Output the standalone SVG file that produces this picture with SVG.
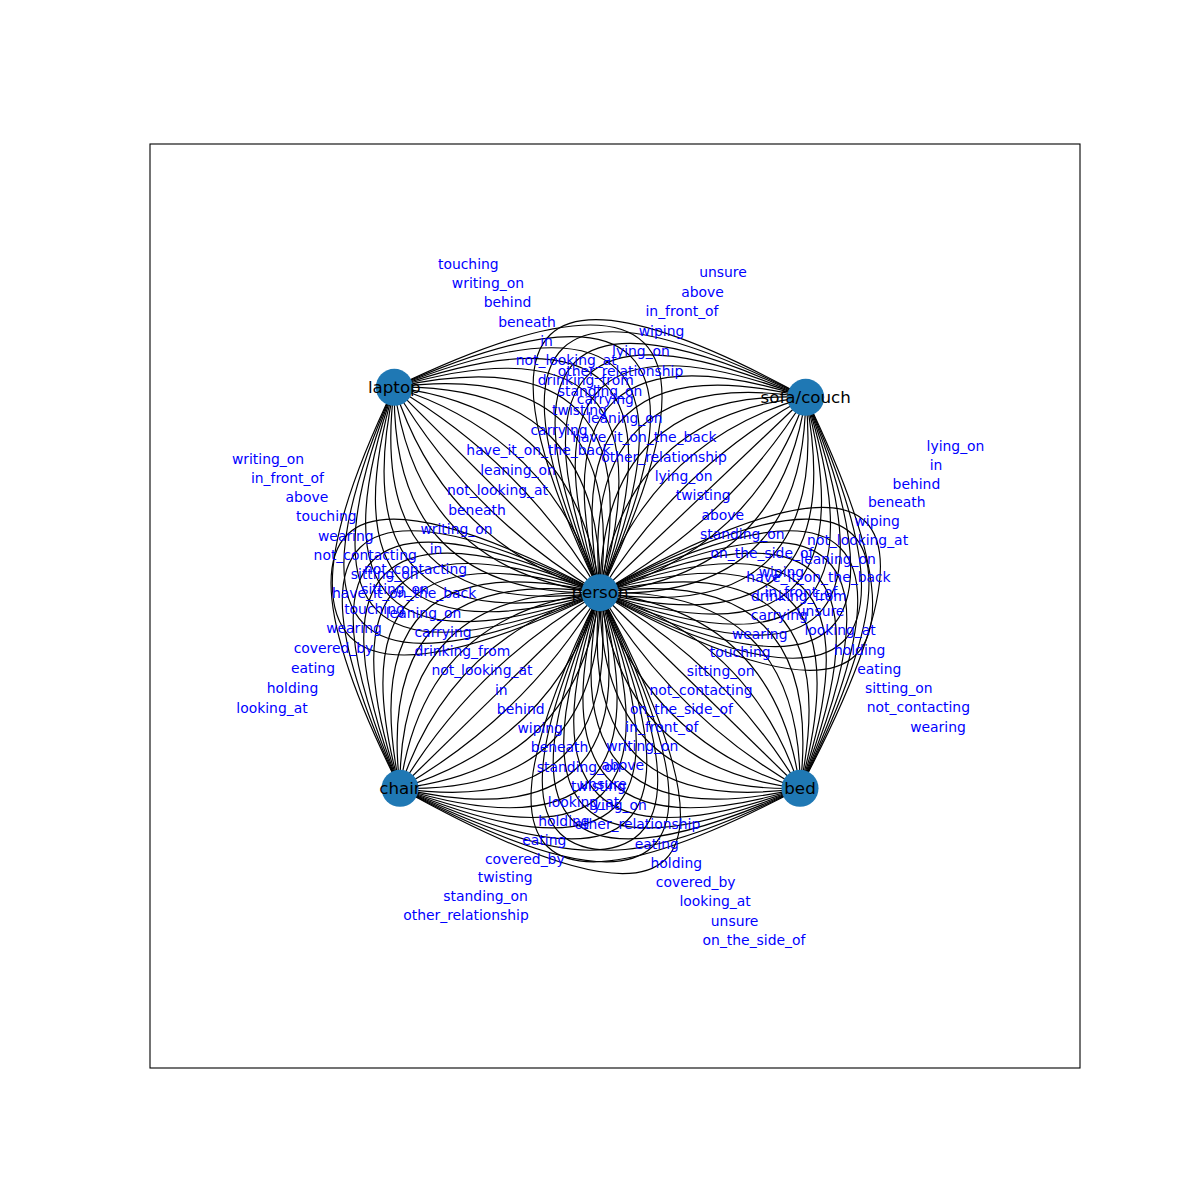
<svg xmlns="http://www.w3.org/2000/svg" width="1200" height="1200" viewBox="0 0 1200 1200">
<style>
.e{fill:none;stroke:#000;stroke-width:1.2}
.l{fill:#0000ff;font-family:"DejaVu Sans","Liberation Sans",sans-serif;font-size:13.9px;text-anchor:middle}
.n{fill:#1f78b4}
.t{fill:#000;font-family:"DejaVu Sans","Liberation Sans",sans-serif;font-size:16.7px;text-anchor:middle}
</style>
<rect x="0" y="0" width="1200" height="1200" fill="#fff"/>
<rect x="150" y="144" width="930" height="924" fill="none" stroke="#000" stroke-width="1.1"/>
<g id="connectors">
<g id="edges-laptop">
<path class="e" d="M394.3 387.3Q790.9 195.9 600 592.7"/>
<path class="e" d="M394.3 387.3Q764.2 222.6 600 592.7"/>
<path class="e" d="M394.3 387.3Q737.5 249.3 600 592.7"/>
<path class="e" d="M394.3 387.3Q710.8 276.1 600 592.7"/>
<path class="e" d="M394.3 387.3Q684.1 302.8 600 592.7"/>
<path class="e" d="M394.3 387.3Q657.4 329.6 600 592.7"/>
<path class="e" d="M394.3 387.3Q630.7 356.3 600 592.7"/>
<path class="e" d="M394.3 387.3Q604 383 600 592.7"/>
<path class="e" d="M394.3 387.3Q577.3 409.8 600 592.7"/>
<path class="e" d="M394.3 387.3Q550.6 436.5 600 592.7"/>
<path class="e" d="M394.3 387.3Q523.9 463.3 600 592.7"/>
<path class="e" d="M394.3 387.3L600 592.7"/>
<path class="e" d="M394.3 387.3Q470.5 516.7 600 592.7"/>
<path class="e" d="M394.3 387.3Q443.8 543.5 600 592.7"/>
<path class="e" d="M394.3 387.3Q417.1 570.2 600 592.7"/>
<path class="e" d="M394.3 387.3Q390.4 597 600 592.7"/>
<path class="e" d="M394.3 387.3Q363.7 623.7 600 592.7"/>
<path class="e" d="M394.3 387.3Q337 650.4 600 592.7"/>
<path class="e" d="M394.3 387.3Q310.3 677.2 600 592.7"/>
<path class="e" d="M394.3 387.3Q283.6 703.9 600 592.7"/>
<path class="e" d="M394.3 387.3Q256.9 730.7 600 592.7"/>
<path class="e" d="M394.3 387.3Q230.2 757.4 600 592.7"/>
<path class="e" d="M394.3 387.3Q203.5 784.1 600 592.7"/>
</g>
<g id="edges-sofa">
<path class="e" d="M805.7 397.3Q398.1 174.1 600 592.7"/>
<path class="e" d="M805.7 397.3Q423.5 200.9 600 592.7"/>
<path class="e" d="M805.7 397.3Q448.9 227.6 600 592.7"/>
<path class="e" d="M805.7 397.3Q474.3 254.3 600 592.7"/>
<path class="e" d="M805.7 397.3Q499.7 281.1 600 592.7"/>
<path class="e" d="M805.7 397.3Q525.1 307.8 600 592.7"/>
<path class="e" d="M805.7 397.3Q550.5 334.6 600 592.7"/>
<path class="e" d="M805.7 397.3Q575.9 361.3 600 592.7"/>
<path class="e" d="M805.7 397.3Q601.3 388 600 592.7"/>
<path class="e" d="M805.7 397.3Q626.7 414.8 600 592.7"/>
<path class="e" d="M805.7 397.3Q652.1 441.5 600 592.7"/>
<path class="e" d="M805.7 397.3Q677.5 468.3 600 592.7"/>
<path class="e" d="M805.7 397.3L600 592.7"/>
<path class="e" d="M805.7 397.3Q728.3 521.7 600 592.7"/>
<path class="e" d="M805.7 397.3Q753.7 548.5 600 592.7"/>
<path class="e" d="M805.7 397.3Q779.1 575.2 600 592.7"/>
<path class="e" d="M805.7 397.3Q804.5 602 600 592.7"/>
<path class="e" d="M805.7 397.3Q829.9 628.7 600 592.7"/>
<path class="e" d="M805.7 397.3Q855.3 655.4 600 592.7"/>
<path class="e" d="M805.7 397.3Q880.7 682.2 600 592.7"/>
<path class="e" d="M805.7 397.3Q906.1 708.9 600 592.7"/>
<path class="e" d="M805.7 397.3Q931.5 735.7 600 592.7"/>
<path class="e" d="M805.7 397.3Q956.9 762.4 600 592.7"/>
<path class="e" d="M805.7 397.3Q982.3 789.1 600 592.7"/>
<path class="e" d="M805.7 397.3Q1007.7 815.9 600 592.7"/>
</g>
<g id="edges-chair">
<path class="e" d="M400 788.3Q194.8 378.5 600 592.7"/>
<path class="e" d="M400 788.3Q220.3 404.5 600 592.7"/>
<path class="e" d="M400 788.3Q245.7 430.5 600 592.7"/>
<path class="e" d="M400 788.3Q271.1 456.5 600 592.7"/>
<path class="e" d="M400 788.3Q296.6 482.5 600 592.7"/>
<path class="e" d="M400 788.3Q322 508.5 600 592.7"/>
<path class="e" d="M400 788.3Q347.4 534.5 600 592.7"/>
<path class="e" d="M400 788.3Q372.9 560.5 600 592.7"/>
<path class="e" d="M400 788.3Q398.3 586.5 600 592.7"/>
<path class="e" d="M400 788.3Q423.7 612.5 600 592.7"/>
<path class="e" d="M400 788.3Q449.1 638.5 600 592.7"/>
<path class="e" d="M400 788.3Q474.6 664.5 600 592.7"/>
<path class="e" d="M400 788.3L600 592.7"/>
<path class="e" d="M400 788.3Q525.4 716.5 600 592.7"/>
<path class="e" d="M400 788.3Q550.9 742.5 600 592.7"/>
<path class="e" d="M400 788.3Q576.3 768.5 600 592.7"/>
<path class="e" d="M400 788.3Q601.7 794.5 600 592.7"/>
<path class="e" d="M400 788.3Q627.2 820.5 600 592.7"/>
<path class="e" d="M400 788.3Q652.6 846.5 600 592.7"/>
<path class="e" d="M400 788.3Q678 872.5 600 592.7"/>
<path class="e" d="M400 788.3Q703.4 898.5 600 592.7"/>
<path class="e" d="M400 788.3Q728.9 924.5 600 592.7"/>
<path class="e" d="M400 788.3Q754.3 950.5 600 592.7"/>
<path class="e" d="M400 788.3Q779.7 976.5 600 592.7"/>
<path class="e" d="M400 788.3Q805.2 1002.5 600 592.7"/>
<path class="e" d="M400 788.3Q830.6 1028.5 600 592.7"/>
</g>
<g id="edges-bed">
<path class="e" d="M800 788.3Q1030.6 352.5 600 592.7"/>
<path class="e" d="M800 788.3Q1005.2 378.5 600 592.7"/>
<path class="e" d="M800 788.3Q979.7 404.5 600 592.7"/>
<path class="e" d="M800 788.3Q954.3 430.5 600 592.7"/>
<path class="e" d="M800 788.3Q928.9 456.5 600 592.7"/>
<path class="e" d="M800 788.3Q903.4 482.5 600 592.7"/>
<path class="e" d="M800 788.3Q878 508.5 600 592.7"/>
<path class="e" d="M800 788.3Q852.6 534.5 600 592.7"/>
<path class="e" d="M800 788.3Q827.2 560.5 600 592.7"/>
<path class="e" d="M800 788.3Q801.7 586.5 600 592.7"/>
<path class="e" d="M800 788.3Q776.3 612.5 600 592.7"/>
<path class="e" d="M800 788.3Q750.9 638.5 600 592.7"/>
<path class="e" d="M800 788.3Q725.4 664.5 600 592.7"/>
<path class="e" d="M800 788.3L600 592.7"/>
<path class="e" d="M800 788.3Q674.6 716.5 600 592.7"/>
<path class="e" d="M800 788.3Q649.1 742.5 600 592.7"/>
<path class="e" d="M800 788.3Q623.7 768.5 600 592.7"/>
<path class="e" d="M800 788.3Q598.3 794.5 600 592.7"/>
<path class="e" d="M800 788.3Q572.9 820.5 600 592.7"/>
<path class="e" d="M800 788.3Q547.4 846.5 600 592.7"/>
<path class="e" d="M800 788.3Q522 872.5 600 592.7"/>
<path class="e" d="M800 788.3Q496.6 898.5 600 592.7"/>
<path class="e" d="M800 788.3Q471.1 924.5 600 592.7"/>
<path class="e" d="M800 788.3Q445.7 950.5 600 592.7"/>
<path class="e" d="M800 788.3Q420.3 976.5 600 592.7"/>
<path class="e" d="M800 788.3Q394.8 1002.5 600 592.7"/>
</g>
</g>
<g id="node-person"><circle class="n" cx="600" cy="592.7" r="18.5"/><text class="t" x="600" y="598.3">person</text></g>
<g id="node-laptop"><circle class="n" cx="394.3" cy="387.3" r="18.5"/><text class="t" x="394.3" y="392.9">laptop</text></g>
<g id="node-sofa-couch"><circle class="n" cx="805.7" cy="397.3" r="18.5"/><text class="t" x="805.7" y="402.9">sofa/couch</text></g>
<g id="node-chair"><circle class="n" cx="400" cy="788.3" r="18.5"/><text class="t" x="400" y="793.9">chair</text></g>
<g id="node-bed"><circle class="n" cx="800" cy="788.3" r="18.5"/><text class="t" x="800" y="793.9">bed</text></g>
<g id="edge-labels" transform="translate(0,4.8)">
<g id="labels-laptop">
<text class="l" x="723" y="272">unsure</text>
<text class="l" x="702.5" y="291.8">above</text>
<text class="l" x="682" y="311.6">in_front_of</text>
<text class="l" x="661.5" y="331.4">wiping</text>
<text class="l" x="641" y="351.3">lying_on</text>
<text class="l" x="620.5" y="371.1">other_relationship</text>
<text class="l" x="600" y="390.9">standing_on</text>
<text class="l" x="579.5" y="410.7">twisting</text>
<text class="l" x="559" y="430.5">carrying</text>
<text class="l" x="538.5" y="450.4">have_it_on_the_back</text>
<text class="l" x="518" y="470.2">leaning_on</text>
<text class="l" x="497.5" y="490">not_looking_at</text>
<text class="l" x="477" y="509.8">beneath</text>
<text class="l" x="456.5" y="529.6">writing_on</text>
<text class="l" x="436" y="549.5">in</text>
<text class="l" x="415.5" y="569.3">not_contacting</text>
<text class="l" x="395" y="589.1">sitting_on</text>
<text class="l" x="374.5" y="608.9">touching</text>
<text class="l" x="354" y="628.7">wearing</text>
<text class="l" x="333.5" y="648.6">covered_by</text>
<text class="l" x="313" y="668.4">eating</text>
<text class="l" x="292.5" y="688.2">holding</text>
<text class="l" x="272" y="708">looking_at</text>
</g>
<g id="labels-sofa">
<text class="l" x="468.3" y="264">touching</text>
<text class="l" x="487.9" y="283.3">writing_on</text>
<text class="l" x="507.5" y="302.6">behind</text>
<text class="l" x="527" y="321.9">beneath</text>
<text class="l" x="546.6" y="341.2">in</text>
<text class="l" x="566.2" y="360.5">not_looking_at</text>
<text class="l" x="585.7" y="379.8">drinking_from</text>
<text class="l" x="605.3" y="399.1">carrying</text>
<text class="l" x="624.9" y="418.3">leaning_on</text>
<text class="l" x="644.4" y="437.6">have_it_on_the_back</text>
<text class="l" x="664" y="456.9">other_relationship</text>
<text class="l" x="683.6" y="476.2">lying_on</text>
<text class="l" x="703.2" y="495.5">twisting</text>
<text class="l" x="722.7" y="514.8">above</text>
<text class="l" x="742.3" y="534.1">standing_on</text>
<text class="l" x="761.9" y="553.4">on_the_side_of</text>
<text class="l" x="781.4" y="572.7">wiping</text>
<text class="l" x="801" y="592">in_front_of</text>
<text class="l" x="820.6" y="611.2">unsure</text>
<text class="l" x="840.1" y="630.5">looking_at</text>
<text class="l" x="859.7" y="649.8">holding</text>
<text class="l" x="879.3" y="669.1">eating</text>
<text class="l" x="898.8" y="688.4">sitting_on</text>
<text class="l" x="918.4" y="707.7">not_contacting</text>
<text class="l" x="938" y="727">wearing</text>
</g>
<g id="labels-chair">
<text class="l" x="268" y="459">writing_on</text>
<text class="l" x="287.4" y="478.2">in_front_of</text>
<text class="l" x="306.9" y="497.5">above</text>
<text class="l" x="326.3" y="516.7">touching</text>
<text class="l" x="345.8" y="536">wearing</text>
<text class="l" x="365.2" y="555.2">not_contacting</text>
<text class="l" x="384.7" y="574.5">sitting_on</text>
<text class="l" x="404.1" y="593.7">have_it_on_the_back</text>
<text class="l" x="423.5" y="612.9">leaning_on</text>
<text class="l" x="443" y="632.2">carrying</text>
<text class="l" x="462.4" y="651.4">drinking_from</text>
<text class="l" x="481.9" y="670.7">not_looking_at</text>
<text class="l" x="501.3" y="689.9">in</text>
<text class="l" x="520.7" y="709.1">behind</text>
<text class="l" x="540.2" y="728.4">wiping</text>
<text class="l" x="559.6" y="747.6">beneath</text>
<text class="l" x="579.1" y="766.9">standing_on</text>
<text class="l" x="598.5" y="786.1">twisting</text>
<text class="l" x="617.9" y="805.3">lying_on</text>
<text class="l" x="637.4" y="824.6">other_relationship</text>
<text class="l" x="656.8" y="843.8">eating</text>
<text class="l" x="676.3" y="863.1">holding</text>
<text class="l" x="695.7" y="882.3">covered_by</text>
<text class="l" x="715.1" y="901.5">looking_at</text>
<text class="l" x="734.6" y="920.8">unsure</text>
<text class="l" x="754" y="940">on_the_side_of</text>
</g>
<g id="labels-bed">
<text class="l" x="955.5" y="446.3">lying_on</text>
<text class="l" x="936" y="465">in</text>
<text class="l" x="916.4" y="483.8">behind</text>
<text class="l" x="896.8" y="502.5">beneath</text>
<text class="l" x="877.2" y="521.3">wiping</text>
<text class="l" x="857.6" y="540">not_looking_at</text>
<text class="l" x="838.1" y="558.8">leaning_on</text>
<text class="l" x="818.5" y="577.5">have_it_on_the_back</text>
<text class="l" x="798.9" y="596.3">drinking_from</text>
<text class="l" x="779.3" y="615">carrying</text>
<text class="l" x="759.7" y="633.8">wearing</text>
<text class="l" x="740.2" y="652.5">touching</text>
<text class="l" x="720.6" y="671.3">sitting_on</text>
<text class="l" x="701" y="690">not_contacting</text>
<text class="l" x="681.4" y="708.8">on_the_side_of</text>
<text class="l" x="661.8" y="727.5">in_front_of</text>
<text class="l" x="642.3" y="746.3">writing_on</text>
<text class="l" x="622.7" y="765">above</text>
<text class="l" x="603.1" y="783.8">unsure</text>
<text class="l" x="583.5" y="802.5">looking_at</text>
<text class="l" x="563.9" y="821.3">holding</text>
<text class="l" x="544.3" y="840">eating</text>
<text class="l" x="524.8" y="858.8">covered_by</text>
<text class="l" x="505.2" y="877.5">twisting</text>
<text class="l" x="485.6" y="896.3">standing_on</text>
<text class="l" x="466" y="915">other_relationship</text>
</g>
</g>
</svg>
